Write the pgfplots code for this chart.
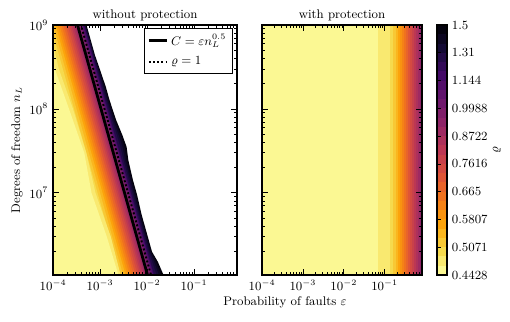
\documentclass[border=0pt]{standalone}
\usepackage{pgfplots}
\pgfplotsset{compat=1.18}

% inferno_r sampled at the middle of each of the 27 contour bands (0.4428 ... 1.5)
\definecolor{b0}{RGB}{251,248,147}
\definecolor{b1}{RGB}{249,233,112}
\definecolor{b2}{RGB}{246,218,77}
\definecolor{b3}{RGB}{248,200,52}
\definecolor{b4}{RGB}{250,182,30}
\definecolor{b5}{RGB}{252,163,11}
\definecolor{b6}{RGB}{248,147,16}
\definecolor{b7}{RGB}{245,130,22}
\definecolor{b8}{RGB}{240,114,30}
\definecolor{b9}{RGB}{232,100,42}
\definecolor{b10}{RGB}{223,85,54}
\definecolor{b11}{RGB}{212,74,65}
\definecolor{b12}{RGB}{200,65,74}
\definecolor{b13}{RGB}{188,55,84}
\definecolor{b14}{RGB}{173,49,91}
\definecolor{b15}{RGB}{158,42,98}
\definecolor{b16}{RGB}{142,36,104}
\definecolor{b17}{RGB}{127,31,106}
\definecolor{b18}{RGB}{112,25,109}
\definecolor{b19}{RGB}{97,20,109}
\definecolor{b20}{RGB}{82,15,106}
\definecolor{b21}{RGB}{68,10,104}
\definecolor{b22}{RGB}{51,10,88}
\definecolor{b23}{RGB}{35,11,71}
\definecolor{b24}{RGB}{20,10,53}
\definecolor{b25}{RGB}{12,6,33}
\definecolor{b26}{RGB}{4,2,14}

\tikzset{fillband/.style={fill=#1, draw=none}}
\pgfplotsset{every axis title/.style={at={(0.5,1)}, anchor=base, yshift=5pt, font=\small}}

\begin{document}
\begin{tikzpicture}
\path[use as bounding box] (0,0) rectangle (367.2pt,231.84pt);

% ---------------- without protection ----------------
\begin{axis}[scale only axis, at={(38.16pt,33.84pt)}, anchor=south west,
  width=132.48pt, height=180pt,
  xmode=log, ymode=log,
  xmin=1e-4, xmax=0.82, ymin=1.05e6, ymax=1e9,
  axis on top,
  tick align=inside, major tick length=4pt, minor tick length=2pt,
  tick style={black, line width=0.5pt},
  axis line style={line width=0.8pt},
  tick label style={font=\small},
  title={without protection},
  legend cell align=left,
  legend image code/.code={\draw[#1] (0pt,0pt) -- (13pt,0pt);},
  legend style={at={(1,1)}, anchor=north east, xshift=-3pt, yshift=-2pt,
    draw=black, line width=0.6pt, font=\small, inner sep=2.5pt, row sep=3pt},
]
% outer edge (rho = 1.5), white beyond
\addplot[fillband=b26, forget plot] coordinates {(4.499e-4,1.315e9)(5.161e-4,1e9)(6.339e-4,6.627e8)(7.78e-4,4.393e8)
  (1.004e-3,2.912e8)(1.331e-3,1.828e8)(1.591e-3,1.280e8)(2.198e-3,7.396e7)(2.977e-3,4.903e7)
  (3.685e-3,3.528e7)(3.994e-3,2.471e7)(5.002e-3,1.428e7)(6.143e-3,9.467e6)(7.69e-3,5.472e6)
  (1.012e-2,3.162e6)(1.277e-2,1.985e6)(1.698e-2,1.509e6)(2.237e-2,1.056e6)(2.566e-2,8.03e5)
  (1e-5,8.03e5)(1e-5,1.315e9)} --cycle;
\addplot[fillband=b25, forget plot] coordinates {(4.370e-4,1.315e9)(5.010e-4,1e9)(6.155e-4,6.627e8)(7.558e-4,4.393e8)
  (9.632e-4,2.912e8)(1.261e-3,1.828e8)(1.507e-3,1.280e8)(2.058e-3,7.396e7)(2.719e-3,4.903e7)
  (3.325e-3,3.528e7)(3.692e-3,2.471e7)(4.681e-3,1.428e7)(5.750e-3,9.467e6)(7.290e-3,5.472e6)
  (9.590e-3,3.162e6)(1.211e-2,1.985e6)(1.550e-2,1.509e6)(1.994e-2,1.056e6)(2.287e-2,8.03e5)
  (1e-5,8.03e5)(1e-5,1.315e9)} --cycle;
\addplot[fillband=b24, forget plot] coordinates {(4.244e-4,1.315e9)(4.867e-4,1e9)(5.977e-4,6.627e8)(7.340e-4,4.393e8)
  (9.239e-4,2.912e8)(1.195e-3,1.828e8)(1.428e-3,1.280e8)(1.926e-3,7.396e7)(2.483e-3,4.903e7)
  (3.000e-3,3.528e7)(3.414e-3,2.471e7)(4.382e-3,1.428e7)(5.383e-3,9.467e6)(6.908e-3,5.472e6)
  (9.087e-3,3.162e6)(1.147e-2,1.985e6)(1.416e-2,1.509e6)(1.777e-2,1.056e6)(2.038e-2,8.03e5)
  (1e-5,8.03e5)(1e-5,1.315e9)} --cycle;
\addplot[fillband=b23, forget plot] coordinates {(4.121e-4,1.315e9)(4.725e-4,1e9)(5.803e-4,6.627e8)(7.127e-4,4.393e8)
  (8.860e-4,2.912e8)(1.132e-3,1.828e8)(1.353e-3,1.280e8)(1.803e-3,7.396e7)(2.268e-3,4.903e7)
  (2.707e-3,3.528e7)(3.157e-3,2.471e7)(4.101e-3,1.428e7)(5.038e-3,9.467e6)(6.545e-3,5.472e6)
  (8.610e-3,3.162e6)(1.087e-2,1.985e6)(1.293e-2,1.509e6)(1.584e-2,1.056e6)(1.816e-2,8.03e5)
  (1e-5,8.03e5)(1e-5,1.315e9)} --cycle;
\addplot[fillband=b22, forget plot] coordinates {(3.245e-4,2e9)(2.052e-2,5e5)(1e-5,5e5)(1e-5,2e9)} --cycle;
\addplot[fillband=b21, forget plot] coordinates {(3.151e-4,2e9)(1.993e-2,5e5)(1e-5,5e5)(1e-5,2e9)} --cycle;
\addplot[fillband=b20, forget plot] coordinates {(3.045e-4,2e9)(1.926e-2,5e5)(1e-5,5e5)(1e-5,2e9)} --cycle;
\addplot[fillband=b19, forget plot] coordinates {(2.942e-4,2e9)(1.861e-2,5e5)(1e-5,5e5)(1e-5,2e9)} --cycle;
\addplot[fillband=b18, forget plot] coordinates {(2.829e-4,2e9)(1.789e-2,5e5)(1e-5,5e5)(1e-5,2e9)} --cycle;
\addplot[fillband=b17, forget plot] coordinates {(2.721e-4,2e9)(1.721e-2,5e5)(1e-5,5e5)(1e-5,2e9)} --cycle;
\addplot[fillband=b16, forget plot] coordinates {(2.442e-4,2e9)(1.544e-2,5e5)(1e-5,5e5)(1e-5,2e9)} --cycle;
\addplot[fillband=b15, forget plot] coordinates {(2.212e-4,2e9)(1.399e-2,5e5)(1e-5,5e5)(1e-5,2e9)} --cycle;
\addplot[fillband=b14, forget plot] coordinates {(2.026e-4,2e9)(1.282e-2,5e5)(1e-5,5e5)(1e-5,2e9)} --cycle;
\addplot[fillband=b13, forget plot] coordinates {(1.874e-4,2e9)(1.185e-2,5e5)(1e-5,5e5)(1e-5,2e9)} --cycle;
\addplot[fillband=b12, forget plot] coordinates {(1.725e-4,2e9)(1.091e-2,5e5)(1e-5,5e5)(1e-5,2e9)} --cycle;
\addplot[fillband=b11, forget plot] coordinates {(1.587e-4,2e9)(1.004e-2,5e5)(1e-5,5e5)(1e-5,2e9)} --cycle;
\addplot[fillband=b10, forget plot] coordinates {(1.438e-4,2e9)(9.094e-3,5e5)(1e-5,5e5)(1e-5,2e9)} --cycle;
\addplot[fillband=b9, forget plot] coordinates {(1.305e-4,2e9)(8.255e-3,5e5)(1e-5,5e5)(1e-5,2e9)} --cycle;
\addplot[fillband=b8, forget plot] coordinates {(1.182e-4,2e9)(7.477e-3,5e5)(1e-5,5e5)(1e-5,2e9)} --cycle;
\addplot[fillband=b7, forget plot] coordinates {(1.073e-4,2e9)(6.788e-3,5e5)(1e-5,5e5)(1e-5,2e9)} --cycle;
\addplot[fillband=b6, forget plot] coordinates {(9.721e-5,2e9)(6.148e-3,5e5)(1e-5,5e5)(1e-5,2e9)} --cycle;
\addplot[fillband=b5, forget plot] coordinates {(8.805e-5,2e9)(5.569e-3,5e5)(1e-5,5e5)(1e-5,2e9)} --cycle;
\addplot[fillband=b4, forget plot] coordinates {(7.993e-5,2e9)(5.055e-3,5e5)(1e-5,5e5)(1e-5,2e9)} --cycle;
\addplot[fillband=b3, forget plot] coordinates {(7.075e-5,2e9)(4.474e-3,5e5)(1e-5,5e5)(1e-5,2e9)} --cycle;
\addplot[fillband=b2, forget plot] coordinates {(6.262e-5,2e9)(3.960e-3,5e5)(1e-5,5e5)(1e-5,2e9)} --cycle;
\addplot[fillband=b1, forget plot] coordinates {(5.403e-5,2e9)(8.018e-5,1e9)(1.328e-4,3e8)(2.663e-4,1e8)
  (5.113e-4,3e7)(8.018e-4,1e7)(1.696e-3,3e6)(2.800e-3,1e6)(3.960e-3,5e5)(1e-5,5e5)(1e-5,2e9)} --cycle;
\addplot[fillband=b0, forget plot] coordinates {(4.663e-5,2e9)(6.594e-5,1e9)(1.091e-4,3e8)(2.189e-4,1e8)
  (4.630e-4,3e7)(6.594e-4,1e7)(1.395e-3,3e6)(2.536e-3,1e6)(3.586e-3,5e5)(1e-5,5e5)(1e-5,2e9)} --cycle;

\addplot[black, line width=2pt] coordinates {(2.348e-4,2e9)(1.485e-2,5e5)};
\addlegendentry{$C=\varepsilon n_L^{0.5}$}
\addplot[black, line width=1.4pt, dash pattern=on 1.4pt off 1.6pt] coordinates {(2.787e-4,2e9)(1.763e-2,5e5)};
\addlegendentry{$\varrho=1$}
\end{axis}

% ---------------- with protection ----------------
\begin{axis}[scale only axis, at={(188.64pt,33.84pt)}, anchor=south west,
  width=115.2pt, height=180pt,
  xmode=log, ymode=log,
  xmin=1e-4, xmax=0.82, ymin=1.05e6, ymax=1e9,
  axis on top,
  tick align=inside, major tick length=4pt, minor tick length=2pt,
  tick style={black, line width=0.5pt},
  axis line style={line width=0.8pt},
  tick label style={font=\small},
  title={with protection}, yticklabels={},
]
\addplot[fillband=b0] coordinates {(1e-5,5e5)(1,5e5)(1,2e9)(1e-5,2e9)} --cycle;
\addplot[fillband=b1] coordinates {(0.0689,5e5)(1,5e5)(1,2e9)(0.0689,2e9)} --cycle;
\addplot[fillband=b2] coordinates {(0.1355,5e5)(1,5e5)(1,2e9)(0.1355,2e9)} --cycle;
\addplot[fillband=b3] coordinates {(0.1603,5e5)(1,5e5)(1,2e9)(0.1603,2e9)} --cycle;
\addplot[fillband=b4] coordinates {(0.1901,5e5)(1,5e5)(1,2e9)(0.1901,2e9)} --cycle;
\addplot[fillband=b5] coordinates {(0.2128,5e5)(1,5e5)(1,2e9)(0.2128,2e9)} --cycle;
\addplot[fillband=b6] coordinates {(0.2382,5e5)(1,5e5)(1,2e9)(0.2382,2e9)} --cycle;
\addplot[fillband=b7] coordinates {(0.2667,5e5)(1,5e5)(1,2e9)(0.2667,2e9)} --cycle;
\addplot[fillband=b8] coordinates {(0.2979,5e5)(1,5e5)(1,2e9)(0.2979,2e9)} --cycle;
\addplot[fillband=b9] coordinates {(0.3334,5e5)(1,5e5)(1,2e9)(0.3334,2e9)} --cycle;
\addplot[fillband=b10] coordinates {(0.3733,5e5)(1,5e5)(1,2e9)(0.3733,2e9)} --cycle;
\addplot[fillband=b11] coordinates {(0.4178,5e5)(1,5e5)(1,2e9)(0.4178,2e9)} --cycle;
\addplot[fillband=b12] coordinates {(0.4677,5e5)(1,5e5)(1,2e9)(0.4677,2e9)} --cycle;
\addplot[fillband=b13] coordinates {(0.5236,5e5)(1,5e5)(1,2e9)(0.5236,2e9)} --cycle;
\addplot[fillband=b14] coordinates {(0.5861,5e5)(1,5e5)(1,2e9)(0.5861,2e9)} --cycle;
\addplot[fillband=b15] coordinates {(0.6561,5e5)(1,5e5)(1,2e9)(0.6561,2e9)} --cycle;
\addplot[fillband=b16] coordinates {(0.7345,5e5)(1,5e5)(1,2e9)(0.7345,2e9)} --cycle;
\end{axis}

% ---------------- colour bar ----------------
\begin{axis}[scale only axis, at={(314.64pt,33.84pt)}, anchor=south west,
  width=7.2pt, height=180pt,
  xmin=0, xmax=1, ymin=0, ymax=27, xtick=\empty,
  ytick={0,3,...,27},
  yticklabels={0.4428,0.5071,0.5807,0.665,0.7616,0.8722,0.9988,1.144,1.31,1.5},
  ytick pos=left, yticklabel pos=right,
  tick align=inside, major tick length=3pt,
  tick style={black, line width=0.5pt},
  axis line style={line width=0.8pt},
  tick label style={font=\small},
  axis on top,
]
\addplot[fillband=b0] coordinates {(0,0)(1,0)(1,1)(0,1)} --cycle;
\addplot[fillband=b1] coordinates {(0,1)(1,1)(1,2)(0,2)} --cycle;
\addplot[fillband=b2] coordinates {(0,2)(1,2)(1,3)(0,3)} --cycle;
\addplot[fillband=b3] coordinates {(0,3)(1,3)(1,4)(0,4)} --cycle;
\addplot[fillband=b4] coordinates {(0,4)(1,4)(1,5)(0,5)} --cycle;
\addplot[fillband=b5] coordinates {(0,5)(1,5)(1,6)(0,6)} --cycle;
\addplot[fillband=b6] coordinates {(0,6)(1,6)(1,7)(0,7)} --cycle;
\addplot[fillband=b7] coordinates {(0,7)(1,7)(1,8)(0,8)} --cycle;
\addplot[fillband=b8] coordinates {(0,8)(1,8)(1,9)(0,9)} --cycle;
\addplot[fillband=b9] coordinates {(0,9)(1,9)(1,10)(0,10)} --cycle;
\addplot[fillband=b10] coordinates {(0,10)(1,10)(1,11)(0,11)} --cycle;
\addplot[fillband=b11] coordinates {(0,11)(1,11)(1,12)(0,12)} --cycle;
\addplot[fillband=b12] coordinates {(0,12)(1,12)(1,13)(0,13)} --cycle;
\addplot[fillband=b13] coordinates {(0,13)(1,13)(1,14)(0,14)} --cycle;
\addplot[fillband=b14] coordinates {(0,14)(1,14)(1,15)(0,15)} --cycle;
\addplot[fillband=b15] coordinates {(0,15)(1,15)(1,16)(0,16)} --cycle;
\addplot[fillband=b16] coordinates {(0,16)(1,16)(1,17)(0,17)} --cycle;
\addplot[fillband=b17] coordinates {(0,17)(1,17)(1,18)(0,18)} --cycle;
\addplot[fillband=b18] coordinates {(0,18)(1,18)(1,19)(0,19)} --cycle;
\addplot[fillband=b19] coordinates {(0,19)(1,19)(1,20)(0,20)} --cycle;
\addplot[fillband=b20] coordinates {(0,20)(1,20)(1,21)(0,21)} --cycle;
\addplot[fillband=b21] coordinates {(0,21)(1,21)(1,22)(0,22)} --cycle;
\addplot[fillband=b22] coordinates {(0,22)(1,22)(1,23)(0,23)} --cycle;
\addplot[fillband=b23] coordinates {(0,23)(1,23)(1,24)(0,24)} --cycle;
\addplot[fillband=b24] coordinates {(0,24)(1,24)(1,25)(0,25)} --cycle;
\addplot[fillband=b25] coordinates {(0,25)(1,25)(1,26)(0,26)} --cycle;
\addplot[fillband=b26] coordinates {(0,26)(1,26)(1,27)(0,27)} --cycle;
\end{axis}

% shared labels
\node[font=\small, rotate=90] at (12.24pt,123.84pt) {Degrees of freedom $n_L$};
\node[font=\small] at (205.2pt,14.4pt) {Probability of faults $\varepsilon$};
\node[font=\small, rotate=90] at (357.8pt,123.84pt) {$\varrho$};
\end{tikzpicture}
\end{document}
